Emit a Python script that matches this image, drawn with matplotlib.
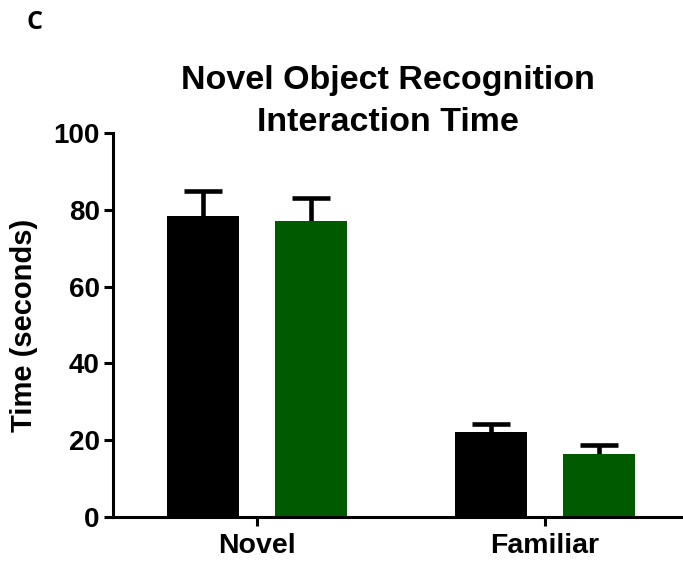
import matplotlib
matplotlib.use("Agg")
import matplotlib.pyplot as plt
import numpy as np
from matplotlib.ticker import MultipleLocator

groups = ["Novel", "Familiar"]
black_mean = [78.3, 22.1]
black_sem = [6.5, 2.1]
green_mean = [77.0, 16.4]
green_sem = [6.0, 2.4]
title_lines = ["Novel Object Recognition", "Interaction Time"]

plt.rcParams['font.family'] = ['Liberation Sans', 'DejaVu Sans']
plt.rcParams['font.weight'] = 'bold'

fig = plt.figure(figsize=(6.83, 5.62), dpi=100)
ax = fig.add_axes([113/683, 45/562, 570/683, 384/562])

x = np.arange(len(groups))
w = 0.25
off = 0.1875
green = '#005a00'

ax.bar(x - off, black_mean, w, color='black', zorder=2)
ax.bar(x + off, green_mean, w, color=green, zorder=2)
for xs, m, e in [(x - off, black_mean, black_sem), (x + off, green_mean, green_sem)]:
    _, caps, _ = ax.errorbar(xs, m, yerr=[np.zeros(2), e], fmt='none',
                             ecolor='black', elinewidth=3.3, capsize=13.5,
                             capthick=3.3, zorder=1)
    caps[0].set_visible(False)  # no lower cap

ax.set_xlim(-0.5, 1.48)
ax.set_ylim(0, 100)
ax.set_xticks(x)
ax.set_xticklabels(groups, fontsize=20.5, fontweight='bold')
ax.set_yticks(np.arange(0, 101, 20))
ax.set_yticklabels([str(v) for v in range(0, 101, 20)], fontsize=20, fontweight='bold')
ax.yaxis.set_minor_locator(MultipleLocator(1))
ax.xaxis.set_minor_locator(MultipleLocator(0.01))
ax.tick_params(which='major', length=6.5, width=2.2, pad=3)
ax.tick_params(axis='x', which='major', pad=5)
ax.tick_params(which='minor', length=2, width=0.7, direction='inout')

for s in ['top', 'right']:
    ax.spines[s].set_visible(False)
for s in ['left', 'bottom']:
    ax.spines[s].set_linewidth(2.2)

ax.set_ylabel("Time (seconds)", fontsize=21, fontweight='bold', labelpad=11)

fig.text(388/683, 1 - 89/562, title_lines[0], ha='center', va='baseline',
         fontsize=24.5, fontweight='bold')
fig.text(388/683, 1 - 131/562, title_lines[1], ha='center', va='baseline',
         fontsize=24.5, fontweight='bold')
fig.text(26/683, 1 - 29/562, "C", ha='left', va='baseline', fontsize=18,
         fontweight='bold', family=['Open Sans', 'DejaVu Sans'])

fig.savefig("out.png", dpi=100)
